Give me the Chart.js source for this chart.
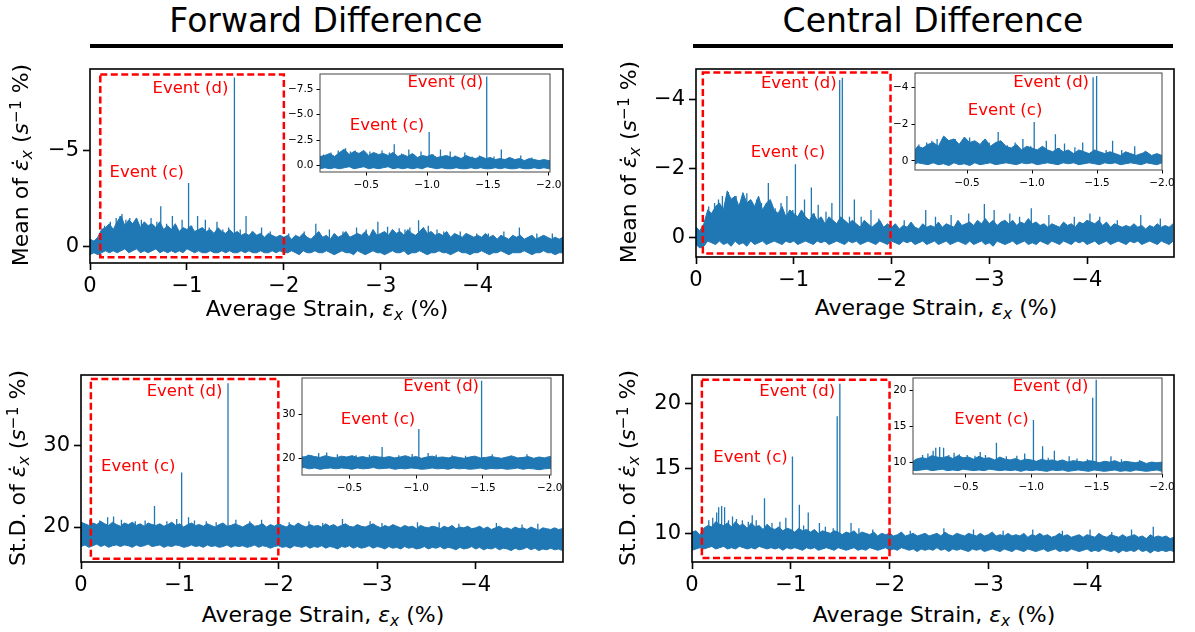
<!DOCTYPE html>
<html>
<head>
<meta charset="utf-8">
<script src="https://cdn.jsdelivr.net/npm/chart.js@4/dist/chart.umd.min.js"></script>
<style>
body { margin: 0; background: #fff; width: 1195px; height: 632px; position: relative; overflow: hidden; font-family: 'DejaVu Sans', sans-serif; }
canvas { position: absolute; }
.ttl { position: absolute; font-size: 33px; line-height: 1; transform: translate(-50%, -50%); white-space: nowrap; z-index: 5; }
.rule { position: absolute; height: 4px; background: #000; }
.xl { position: absolute; font-size: 22px; line-height: 1; transform: translate(-50%, -50%); white-space: nowrap; z-index: 5; }
.yl { position: absolute; font-size: 22px; line-height: 1; transform: translate(-50%, -50%) rotate(-90deg); white-space: nowrap; z-index: 5; }
.sb { font-size: 70%; vertical-align: -0.25em; font-style: italic; }
.sp { font-size: 70%; vertical-align: 0.5em; }
</style>
</head>
<body>
<div class="ttl" style="left:326px;top:20px">Forward Difference</div>
<div class="ttl" style="left:933px;top:20px">Central Difference</div>
<div class="rule" style="left:90px;top:44px;width:473px"></div>
<div class="rule" style="left:693px;top:44px;width:480px"></div>

<div class="xl" style="left:327px;top:311px">Average Strain, <i>ε</i><span class="sb">x</span> (%)</div>
<div class="xl" style="left:936px;top:310px">Average Strain, <i>ε</i><span class="sb">x</span> (%)</div>
<div class="xl" style="left:323px;top:617px">Average Strain, <i>ε</i><span class="sb">x</span> (%)</div>
<div class="xl" style="left:934px;top:617px">Average Strain, <i>ε</i><span class="sb">x</span> (%)</div>
<div class="yl" style="left:22px;top:165px">Mean of <i>ε̇</i><span class="sb">x</span> (<i>s</i><span class="sp">−1</span> %)</div>
<div class="yl" style="left:630px;top:162px">Mean of <i>ε̇</i><span class="sb">x</span> (<i>s</i><span class="sp">−1</span> %)</div>
<div class="yl" style="left:19px;top:468px">St.D. of <i>ε̇</i><span class="sb">x</span> (<i>s</i><span class="sp">−1</span> %)</div>
<div class="yl" style="left:629px;top:468px">St.D. of <i>ε̇</i><span class="sb">x</span> (<i>s</i><span class="sp">−1</span> %)</div>

<script>
Chart.defaults.font.family = "'DejaVu Sans', sans-serif";

// ---------------- data ----------------
// noisy traces kept as upper / lower edges of the band, sampled every 0.04 % strain (0 ... -4.88),
// plus the isolated spikes (strain, peak) drawn up from a level inside the band
const strainStep = 0.04;

// forward difference, mean
const fwdMeanTop = [
  -0.4,-0.3,-0.5,-0.9,-1.0,-1.2,-0.9,-1.3,-1.6,-1.1,
  -1.4,-1.2,-1.5,-1.0,-1.3,-1.1,-1.2,-1.0,-1.3,-0.9,
  -1.1,-0.9,-1.2,-0.8,-1.0,-0.9,-1.1,-0.8,-0.9,-1.0,
  -0.8,-0.9,-0.7,-1.0,-0.8,-0.7,-0.9,-0.7,-0.8,-0.6,
  -0.7,-0.6,-0.8,-0.6,-0.7,-0.5,-0.7,-0.6,-0.5,-0.6,
  -0.5,-0.6,-0.4,-0.6,-0.5,-0.7,-0.5,-0.4,-0.6,-0.8,
  -0.5,-0.6,-0.4,-0.7,-0.5,-0.6,-0.8,-0.5,-0.6,-0.7,
  -0.6,-0.8,-0.5,-0.9,-0.6,-0.7,-0.8,-0.6,-0.9,-0.7,
  -0.8,-0.6,-0.9,-0.7,-0.6,-0.8,-1.0,-0.7,-0.8,-0.6,
  -0.7,-0.6,-0.8,-0.5,-0.7,-0.6,-0.5,-0.7,-0.6,-0.5,
  -0.6,-0.5,-0.7,-0.5,-0.6,-0.4,-0.6,-0.5,-0.4,-0.6,
  -0.5,-0.6,-0.4,-0.5,-0.6,-0.4,-0.5,-0.6,-0.5,-0.4,
  -0.5,-0.4,-0.5
];
const fwdMeanBottom = [
  0.4,0.3,0.4,0.3,0.2,0.3,0.2,0.3,0.2,0.1,
  0.3,0.2,0.1,0.3,0.2,0.3,0.2,0.1,0.3,0.2,
  0.3,0.2,0.3,0.2,0.3,0.1,0.2,0.3,0.2,0.3,
  0.3,0.2,0.3,0.3,0.2,0.3,0.2,0.3,0.3,0.2,
  0.3,0.2,0.3,0.3,0.2,0.3,0.3,0.2,0.3,0.2,
  0.3,0.3,0.2,0.3,0.4,0.2,0.3,0.3,0.2,0.3,
  0.3,0.2,0.3,0.4,0.3,0.2,0.3,0.3,0.4,0.2,
  0.3,0.4,0.3,0.2,0.3,0.3,0.4,0.3,0.2,0.3,
  0.3,0.2,0.4,0.3,0.3,0.2,0.3,0.4,0.3,0.3,
  0.2,0.3,0.3,0.4,0.3,0.2,0.3,0.3,0.4,0.3,
  0.3,0.2,0.3,0.4,0.3,0.3,0.2,0.3,0.4,0.3,
  0.3,0.3,0.2,0.3,0.4,0.3,0.3,0.2,0.3,0.3,
  0.4,0.3,0.3
];
const fwdMeanSpikeBase = 0;
const fwdMeanSpikeX = [-0.15,-0.21,-0.27,-0.31,-0.33,-0.37,-0.41,-0.47,-0.53,-0.57,-0.63,-0.69,-0.73,-0.79,-0.85,-0.89,-0.95,-1.017,-1.05,-1.11,-1.19,-1.23,-1.31,-1.37,-1.43,-1.49,-1.55,-1.61,-1.67,-1.77,-1.86,-2.05,-2.21,-2.33,-2.47,-2.61,-2.75,-2.85,-2.97,-3.07,-3.19,-3.25,-3.30,-3.39,-3.44,-3.49,-3.58,-3.65,-3.82,-3.99,-4.11,-4.27,-4.43,-4.61,-4.77];
const fwdMeanSpikeY = [-1.1,-1.3,-1.5,-1.6,-1.7,-1.4,-1.5,-1.2,-1.4,-1.2,-1.5,-1.3,-2.1,-1.2,-1.6,-1.1,-1.4,-3.3,-1.1,-1.6,-1.4,-1.0,-1.3,-0.9,-1.0,-8.75,-0.9,-1.6,-0.8,-1.0,-0.8,-0.7,-0.8,-1.2,-0.9,-0.8,-1.0,-0.9,-1.3,-1.04,-0.96,-0.9,-1.0,-1.38,-1.0,-1.1,-0.9,-0.8,-0.8,-0.7,-0.7,-0.8,-1.0,-0.7,-0.7];

// central difference, mean
const ctrMeanTop = [
  -0.3,-0.2,-0.4,-0.8,-0.7,-0.9,-1.0,-0.8,-1.35,-1.1,
  -1.2,-0.9,-1.3,-1.0,-1.1,-0.9,-1.2,-0.8,-1.0,-1.1,
  -0.8,-0.7,-0.9,-0.6,-0.8,-0.7,-0.6,-0.8,-0.6,-0.5,
  -0.7,-0.5,-0.6,-0.4,-0.6,-0.5,-0.4,-0.6,-0.5,-0.4,
  -0.5,-0.4,-0.3,-0.5,-0.4,-0.3,-0.4,-0.5,-0.3,-0.4,
  -0.3,-0.4,-0.25,-0.35,-0.3,-0.45,-0.3,-0.25,-0.4,-0.3,
  -0.35,-0.3,-0.45,-0.3,-0.4,-0.35,-0.3,-0.5,-0.35,-0.4,
  -0.45,-0.35,-0.5,-0.4,-0.55,-0.4,-0.5,-0.35,-0.45,-0.5,
  -0.4,-0.5,-0.35,-0.45,-0.4,-0.55,-0.4,-0.45,-0.35,-0.4,
  -0.3,-0.4,-0.35,-0.3,-0.45,-0.35,-0.4,-0.3,-0.45,-0.4,
  -0.5,-0.45,-0.4,-0.5,-0.35,-0.45,-0.3,-0.4,-0.35,-0.3,
  -0.35,-0.3,-0.4,-0.3,-0.35,-0.25,-0.35,-0.3,-0.4,-0.3,
  -0.35,-0.3,-0.4
];
const ctrMeanBottom = [
  0.2,0.3,0.25,0.1,0.15,0.2,0.1,0.2,0.15,0.25,
  0.1,0.2,0.15,0.25,0.1,0.2,0.15,0.1,0.2,0.15,
  0.1,0.15,0.2,0.1,0.15,0.1,0.2,0.15,0.1,0.15,
  0.2,0.1,0.15,0.1,0.2,0.15,0.1,0.15,0.2,0.1,
  0.15,0.1,0.2,0.15,0.1,0.15,0.2,0.1,0.15,0.2,
  0.1,0.15,0.2,0.1,0.15,0.1,0.2,0.15,0.1,0.2,
  0.15,0.1,0.2,0.15,0.1,0.2,0.15,0.1,0.15,0.2,
  0.1,0.2,0.15,0.1,0.2,0.15,0.25,0.1,0.15,0.2,
  0.15,0.1,0.2,0.15,0.1,0.2,0.15,0.2,0.1,0.15,
  0.2,0.1,0.15,0.2,0.1,0.15,0.2,0.1,0.15,0.1,
  0.2,0.15,0.1,0.2,0.15,0.1,0.2,0.15,0.1,0.15,
  0.2,0.1,0.15,0.1,0.2,0.15,0.1,0.15,0.2,0.1,
  0.15,0.2,0.1
];
const ctrMeanSpikeBase = 0;
const ctrMeanSpikeX = [-0.13,-0.19,-0.23,-0.27,-0.33,-0.37,-0.41,-0.45,-0.52,-0.55,-0.62,-0.67,-0.71,-0.74,-0.81,-0.87,-0.93,-0.99,-1.017,-1.07,-1.11,-1.18,-1.21,-1.25,-1.33,-1.39,-1.47,-1.497,-1.57,-1.62,-1.69,-1.79,-1.87,-2.13,-2.35,-2.45,-2.61,-2.79,-2.95,-3.05,-3.21,-3.31,-3.43,-3.61,-3.87,-4.03,-4.13,-4.31,-4.55,-4.75];
const ctrMeanSpikeY = [-0.9,-1.0,-1.1,-1.2,-1.32,-1.15,-1.2,-1.0,-1.28,-0.95,-1.1,-1.0,-0.9,-1.58,-0.85,-1.0,-1.2,-0.8,-2.12,-0.75,-1.1,-1.45,-0.7,-0.95,-0.75,-1.0,-4.55,-4.62,-0.6,-1.1,-0.6,-0.8,-0.55,-0.5,-0.8,-0.6,-0.65,-0.7,-0.97,-0.8,-0.7,-0.6,-0.85,-0.65,-0.6,-0.7,-0.6,-0.5,-0.65,-0.55];

// forward difference, standard deviation
const fwdStdTop = [
  20.6,20.4,20.2,20.5,20.3,20.7,20.4,20.2,20.6,20.3,
  20.1,20.5,20.3,20.6,20.2,20.4,20.1,20.5,20.3,20.2,
  20.4,20.1,20.3,20.6,20.2,20.4,20.0,20.3,20.5,20.2,
  20.3,20.1,20.4,20.2,20.0,20.3,20.5,20.1,20.2,20.4,
  20.2,20.0,20.3,20.5,20.1,20.2,20.4,20.0,20.3,20.1,
  20.4,20.2,20.0,20.3,20.1,20.5,20.2,20.0,20.3,20.1,
  20.2,20.0,20.4,20.1,20.3,20.0,20.2,20.4,20.1,20.0,
  20.3,20.1,20.0,20.2,20.4,20.1,19.9,20.2,20.0,20.3,
  20.1,19.9,20.2,20.0,20.1,19.8,20.2,20.0,19.9,20.1,
  20.0,19.8,20.1,19.9,20.2,19.8,20.0,19.9,20.1,19.8,
  19.9,20.1,19.8,20.0,19.7,19.9,20.1,19.8,19.9,19.7,
  20.0,19.8,19.9,19.7,20.0,19.8,19.6,19.9,19.8,19.7,
  19.9,19.7,19.8
];
const fwdStdBottom = [
  17.6,17.8,17.5,17.7,17.9,17.6,17.8,17.5,17.7,17.8,
  17.6,17.8,17.7,17.5,17.8,17.6,17.7,17.9,17.6,17.7,
  17.8,17.5,17.7,17.6,17.8,17.7,17.5,17.6,17.8,17.6,
  17.7,17.5,17.8,17.6,17.7,17.5,17.6,17.8,17.5,17.7,
  17.6,17.7,17.5,17.6,17.8,17.5,17.7,17.6,17.4,17.6,
  17.7,17.5,17.6,17.4,17.7,17.6,17.5,17.7,17.4,17.6,
  17.5,17.7,17.4,17.6,17.5,17.3,17.6,17.5,17.7,17.4,
  17.6,17.4,17.5,17.7,17.4,17.6,17.5,17.3,17.6,17.4,
  17.5,17.3,17.6,17.4,17.5,17.3,17.4,17.6,17.3,17.5,
  17.4,17.6,17.3,17.5,17.4,17.2,17.5,17.3,17.4,17.6,
  17.3,17.5,17.2,17.4,17.3,17.5,17.2,17.4,17.3,17.1,
  17.4,17.2,17.3,17.5,17.2,17.4,17.1,17.3,17.2,17.4,
  17.2,17.3,17.1
];
const fwdStdSpikeBase = 19;
const fwdStdSpikeX = [-0.09,-0.19,-0.27,-0.33,-0.41,-0.55,-0.65,-0.745,-0.87,-0.97,-1.02,-1.09,-1.15,-1.27,-1.37,-1.49,-1.57,-1.71,-1.83,-2.11,-2.31,-2.45,-2.65,-2.93,-3.05,-3.41,-3.63,-3.83,-4.21,-4.47,-4.63];
const fwdStdSpikeY = [20.9,20.8,21.2,21.3,20.9,20.7,20.8,22.6,20.7,21.0,26.7,21.2,20.8,20.7,20.6,37.7,20.9,20.7,20.9,20.6,20.7,20.5,21.0,20.7,20.5,20.6,20.6,20.4,20.5,20.3,20.4];

// central difference, standard deviation
const ctrStdTop = [
  10.1,10.2,9.9,10.4,10.6,10.5,10.9,10.7,10.6,10.8,
  10.5,10.9,10.6,10.7,10.4,10.8,10.5,10.6,10.3,10.7,
  10.4,10.3,10.5,10.2,10.4,10.3,10.1,10.4,10.2,10.3,
  10.1,10.3,10.0,10.2,10.1,10.0,10.2,10.1,9.9,10.1,
  10.0,10.2,9.9,10.1,10.0,9.9,10.1,9.8,10.0,9.9,
  10.0,9.8,9.9,10.1,9.8,9.9,10.0,9.8,9.9,10.0,
  9.8,9.9,10.0,9.8,10.1,9.9,9.8,10.0,9.9,9.8,
  10.0,9.9,9.8,10.0,9.8,9.9,10.1,9.8,9.9,9.8,
  10.0,9.8,9.9,9.8,10.0,9.7,9.9,9.8,10.0,9.8,
  9.9,9.7,9.8,10.0,9.8,9.9,9.7,9.8,9.9,9.7,
  9.9,9.8,9.7,10.0,9.8,9.7,9.9,9.8,9.7,9.9,
  9.7,9.8,9.9,9.7,9.8,9.6,9.9,9.7,9.8,9.7,
  9.8,9.6,9.7
];
const ctrStdBottom = [
  8.7,8.8,8.9,8.8,8.9,9.0,8.8,8.9,9.0,8.8,
  8.9,8.8,9.0,8.9,8.8,8.9,8.8,9.0,8.9,8.8,
  8.9,8.8,8.9,8.7,8.9,8.8,8.9,8.8,8.7,8.9,
  8.8,8.9,8.7,8.8,8.9,8.8,8.7,8.9,8.8,8.7,
  8.8,8.9,8.7,8.8,8.7,8.9,8.8,8.7,8.8,8.9,
  8.7,8.8,8.7,8.9,8.8,8.7,8.8,8.6,8.8,8.7,
  8.8,8.7,8.9,8.7,8.8,8.6,8.8,8.7,8.8,8.7,
  8.6,8.8,8.7,8.8,8.6,8.7,8.8,8.7,8.6,8.8,
  8.7,8.6,8.8,8.7,8.6,8.8,8.7,8.6,8.7,8.8,
  8.6,8.7,8.8,8.6,8.7,8.6,8.8,8.7,8.6,8.7,
  8.8,8.6,8.7,8.6,8.8,8.7,8.6,8.7,8.5,8.7,
  8.6,8.7,8.6,8.8,8.6,8.7,8.5,8.7,8.6,8.7,
  8.6,8.7,8.6
];
const ctrStdSpikeBase = 9.4;
const ctrStdSpikeX = [-0.17,-0.21,-0.25,-0.27,-0.30,-0.33,-0.37,-0.41,-0.45,-0.51,-0.57,-0.61,-0.65,-0.734,-0.81,-0.89,-0.95,-1.017,-1.087,-1.13,-1.177,-1.29,-1.35,-1.43,-1.47,-1.497,-1.61,-1.69,-1.83,-2.21,-2.55,-2.85,-3.15,-3.45,-3.75,-4.03,-4.25,-4.45,-4.67];
const ctrStdSpikeY = [11.0,11.2,11.6,12.0,12.1,12.0,11.0,11.3,11.1,11.0,10.9,11.4,11.0,12.7,10.8,10.9,11.2,15.9,12.2,10.6,11.6,10.8,10.5,10.4,19.0,21.5,10.8,10.4,10.3,10.2,10.4,10.3,10.2,10.3,10.2,10.3,10.1,10.3,10.5];

// tick labels
const mainXTicks = [0, -1, -2, -3, -4];
const insetXTicks = [-0.5, -1.0, -1.5, -2.0];
const fwdMeanYTicks = [-5, 0];
const fwdMeanInsetYTicks = [-7.5, -5.0, -2.5, 0.0];
const ctrMeanYTicks = [-4, -2, 0];
const ctrMeanInsetYTicks = [-4, -2, 0];
const fwdStdYTicks = [20, 30];
const fwdStdInsetYTicks = [20, 30];
const ctrStdYTicks = [10, 15, 20];
const ctrStdInsetYTicks = [10, 15, 20];

// annotations: event labels (data coords) and the dashed zoom boxes [x0, x1, y0, y1]
const eventNames = ['Event (d)', 'Event (c)'];
const fwdMeanEvents = [[-1.036, -8.17], [-0.586, -3.82]];
const fwdMeanInsetEvents = [[-1.15, -8.1], [-0.67, -3.92]];
const ctrMeanEvents = [[-1.052, -4.44], [-0.94, -2.45]];
const ctrMeanInsetEvents = [[-1.147, -4.24], [-0.793, -2.73]];
const fwdStdEvents = [[-1.05, 36.68], [-0.58, 27.45]];
const fwdStdInsetEvents = [[-1.187, 36.2], [-0.714, 28.9]];
const ctrStdEvents = [[-1.065, 20.87], [-0.592, 15.83]];
const ctrStdInsetEvents = [[-1.148, 20.5], [-0.696, 15.96]];
const fwdMeanBox = [-0.106, -2.0, -8.9, 0.53];
const ctrMeanBox = [-0.07, -1.99, -4.77, 0.46];
const fwdStdBox = [-0.1, -2.0, 16.1, 38.2];
const ctrStdBox = [-0.1, -2.0, 8.1, 21.8];

// ---------------- helpers ----------------
function edge(vals) {
  return vals.map((v, i) => ({ x: -i * strainStep, y: v }));
}

function spikes(base, spX, spY) {
  const pts = [];
  spX.forEach((sx, k) => {
    pts.push({ x: sx, y: base }, { x: sx, y: spY[k] }, { x: sx, y: null });
  });
  return pts;
}

function fmt(dec) {
  return v => (v < 0 ? '\u2212' : '') + Math.abs(v).toFixed(dec);
}

const MAIN = { yw: 75, xh: 36, pt: 6, pr: 14, font: 21, tl: 7, tw: 1.6, xpad: 4, ypad: 4, frame: 1.6, fc: '#000', white: false, z: 1 };
const INSET = { yw: 32, xh: 24, pt: 4, pr: 18, font: 10.5, tl: 3.5, tw: 1, xpad: 3, ypad: 3, frame: 1, fc: '#444', white: true, z: 2 };

function makeDecor(g, box, events) {
  return {
    id: 'decor',
    beforeDraw(chart) {
      if (!g.white) return;
      const a = chart.chartArea, ctx = chart.ctx;
      ctx.save();
      ctx.fillStyle = '#fff';
      ctx.fillRect(a.left, a.top, a.width, a.height);
      ctx.restore();
    },
    afterDatasetsDraw(chart) {
      const ctx = chart.ctx, a = chart.chartArea, x = chart.scales.x, y = chart.scales.y;
      ctx.save();
      if (box) {
        const x0 = x.getPixelForValue(box[0]), x1 = x.getPixelForValue(box[1]);
        const y0 = y.getPixelForValue(box[2]), y1 = y.getPixelForValue(box[3]);
        ctx.strokeStyle = '#ff0000';
        ctx.lineWidth = 2.5;
        ctx.setLineDash([7, 3.5]);
        ctx.strokeRect(Math.min(x0, x1), Math.min(y0, y1), Math.abs(x1 - x0), Math.abs(y1 - y0));
        ctx.setLineDash([]);
      }
      ctx.fillStyle = '#ff0000';
      ctx.font = "16.5px 'DejaVu Sans'";
      ctx.textAlign = 'center';
      ctx.textBaseline = 'middle';
      events.forEach((p, i) => ctx.fillText(eventNames[i], x.getPixelForValue(p[0]), y.getPixelForValue(p[1])));
      ctx.strokeStyle = g.fc;
      ctx.lineWidth = g.frame;
      ctx.strokeRect(a.left, a.top, a.width, a.height);
      ctx.restore();
    }
  };
}

function makeChart(g, area, low, high, peaks, xr, yr, xt, yt, xdec, ydec, yrev, box, events) {
  const [l, t, r, b] = area;
  const w = r - l + g.yw + g.pr, h = b - t + g.pt + g.xh;
  const cv = document.createElement('canvas');
  cv.width = w; cv.height = h;
  cv.style.left = (l - g.yw) + 'px';
  cv.style.top = (t - g.pt) + 'px';
  cv.style.width = w + 'px';
  cv.style.height = h + 'px';
  cv.style.zIndex = g.z;
  document.body.appendChild(cv);

  const axis = (ticks, dec, pad) => ({
    type: 'linear',
    afterBuildTicks: s => { s.ticks = ticks.map(v => ({ value: v })); },
    grid: { display: true, drawOnChartArea: false, drawTicks: true, tickLength: g.tl, tickWidth: g.tw, tickColor: '#000' },
    border: { display: false },
    ticks: { color: '#000', font: { size: g.font }, padding: pad, autoSkip: false, maxRotation: 0, callback: fmt(dec) }
  });
  const xs = Object.assign(axis(xt, xdec, g.xpad), {
    min: xr[0], max: xr[1], reverse: true,
    afterFit: s => { s.height = g.xh; s.paddingLeft = 0; s.paddingRight = 0; }
  });
  const ys = Object.assign(axis(yt, ydec, g.ypad), {
    min: yr[0], max: yr[1], reverse: yrev,
    afterFit: s => { s.width = g.yw; s.paddingTop = 0; s.paddingBottom = 0; }
  });

  const blue = '#1f77b4';
  new Chart(cv, {
    type: 'line',
    data: {
      datasets: [
        { data: low, borderColor: blue, borderWidth: 1, pointRadius: 0, tension: 0, fill: false },
        { data: high, borderColor: blue, backgroundColor: blue, borderWidth: 1, pointRadius: 0, tension: 0, fill: '-1' },
        { data: peaks, borderColor: blue, borderWidth: 1.3, pointRadius: 0, tension: 0, fill: false, spanGaps: false }
      ]
    },
    options: {
      responsive: false,
      animation: false,
      devicePixelRatio: 1,
      events: [],
      layout: { padding: { left: 0, top: g.pt, right: g.pr, bottom: 0 } },
      plugins: { legend: { display: false }, tooltip: { enabled: false } },
      scales: { x: xs, y: ys }
    },
    plugins: [makeDecor(g, box, events)]
  });
}

// ---------------- panels ----------------
const fwdMeanLow = edge(fwdMeanBottom), fwdMeanHigh = edge(fwdMeanTop), fwdMeanPeaks = spikes(fwdMeanSpikeBase, fwdMeanSpikeX, fwdMeanSpikeY);
const ctrMeanLow = edge(ctrMeanBottom), ctrMeanHigh = edge(ctrMeanTop), ctrMeanPeaks = spikes(ctrMeanSpikeBase, ctrMeanSpikeX, ctrMeanSpikeY);
const fwdStdLow = edge(fwdStdBottom), fwdStdHigh = edge(fwdStdTop), fwdStdPeaks = spikes(fwdStdSpikeBase, fwdStdSpikeX, fwdStdSpikeY);
const ctrStdLow = edge(ctrStdBottom), ctrStdHigh = edge(ctrStdTop), ctrStdPeaks = spikes(ctrStdSpikeBase, ctrStdSpikeX, ctrStdSpikeY);

// top left
makeChart(MAIN, [90, 69, 563, 263], fwdMeanLow, fwdMeanHigh, fwdMeanPeaks, [-4.88, 0], [-9.19, 0.83], mainXTicks, fwdMeanYTicks, 0, 0, true, fwdMeanBox, fwdMeanEvents);
makeChart(INSET, [320, 74, 550, 172], fwdMeanLow, fwdMeanHigh, fwdMeanPeaks, [-2.01, -0.12], [-9.0, 0.62], insetXTicks, fwdMeanInsetYTicks, 1, 1, true, null, fwdMeanInsetEvents);
// top right
makeChart(MAIN, [696, 69, 1174, 257], ctrMeanLow, ctrMeanHigh, ctrMeanPeaks, [-4.89, 0], [-4.87, 0.56], mainXTicks, ctrMeanYTicks, 0, 0, true, ctrMeanBox, ctrMeanEvents);
makeChart(INSET, [915, 73, 1162, 170], ctrMeanLow, ctrMeanHigh, ctrMeanPeaks, [-2.0, -0.1], [-4.78, 0.49], insetXTicks, ctrMeanInsetYTicks, 1, 0, true, null, ctrMeanInsetEvents);
// bottom left
makeChart(MAIN, [81, 375, 563, 562], fwdStdLow, fwdStdHigh, fwdStdPeaks, [-4.885, 0], [15.7, 38.7], mainXTicks, fwdStdYTicks, 0, 0, false, fwdStdBox, fwdStdEvents);
makeChart(INSET, [302, 378, 551, 475], fwdStdLow, fwdStdHigh, fwdStdPeaks, [-2.01, -0.145], [16.2, 38.3], insetXTicks, fwdStdInsetYTicks, 1, 0, false, null, fwdStdInsetEvents);
// bottom right
makeChart(MAIN, [692, 375, 1174, 562], ctrStdLow, ctrStdHigh, ctrStdPeaks, [-4.88, 0], [7.8, 22.17], mainXTicks, ctrStdYTicks, 0, 0, false, ctrStdBox, ctrStdEvents);
makeChart(INSET, [913, 378, 1162, 474], ctrStdLow, ctrStdHigh, ctrStdPeaks, [-2.0, -0.096], [8.33, 21.76], insetXTicks, ctrStdInsetYTicks, 1, 0, false, null, ctrStdInsetEvents);
</script>
</body>
</html>
